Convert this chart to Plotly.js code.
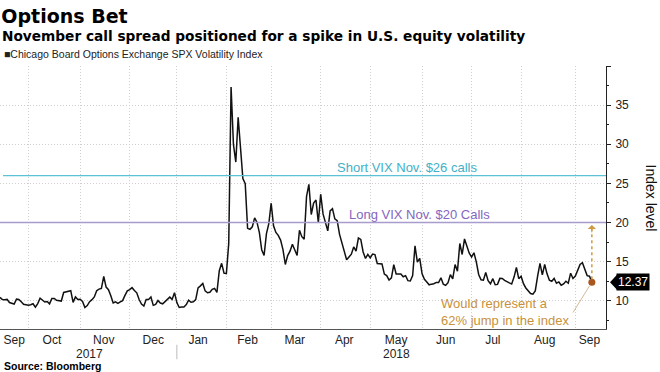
<!DOCTYPE html>
<html>
<head>
<meta charset="utf-8">
<script src="https://cdn.plot.ly/plotly-3.0.1.min.js"></script>
<style>html,body{margin:0;padding:0;background:#fff}#chart{width:660px;height:372px}</style>
</head>
<body>
<div id="chart"></div>
<script>
// VIX daily closes
const dates = [
"2017-09-14","2017-09-15","2017-09-18","2017-09-19","2017-09-20","2017-09-21","2017-09-22","2017-09-25","2017-09-26","2017-09-27","2017-09-28","2017-09-29",
"2017-10-02","2017-10-03","2017-10-04","2017-10-05","2017-10-06","2017-10-09","2017-10-10","2017-10-11","2017-10-12","2017-10-13","2017-10-16","2017-10-17","2017-10-18","2017-10-19","2017-10-20","2017-10-23","2017-10-24","2017-10-25","2017-10-26","2017-10-27","2017-10-30","2017-10-31",
"2017-11-01","2017-11-02","2017-11-03","2017-11-06","2017-11-07","2017-11-08","2017-11-09","2017-11-10","2017-11-13","2017-11-14","2017-11-15","2017-11-16","2017-11-17","2017-11-20","2017-11-21","2017-11-22","2017-11-24","2017-11-27","2017-11-28","2017-11-29","2017-11-30",
"2017-12-01","2017-12-04","2017-12-05","2017-12-06","2017-12-07","2017-12-08","2017-12-11","2017-12-12","2017-12-13","2017-12-14","2017-12-15","2017-12-18","2017-12-19","2017-12-20","2017-12-21","2017-12-22","2017-12-26","2017-12-27","2017-12-28","2017-12-29",
"2018-01-02","2018-01-03","2018-01-04","2018-01-05","2018-01-08","2018-01-09","2018-01-10","2018-01-11","2018-01-12","2018-01-16","2018-01-17","2018-01-18","2018-01-19","2018-01-22","2018-01-23","2018-01-24","2018-01-25","2018-01-26","2018-01-29","2018-01-30","2018-01-31",
"2018-02-01","2018-02-02","2018-02-05","2018-02-06","2018-02-07","2018-02-08","2018-02-09","2018-02-12","2018-02-13","2018-02-14","2018-02-15","2018-02-16","2018-02-20","2018-02-21","2018-02-22","2018-02-23","2018-02-26","2018-02-27","2018-02-28",
"2018-03-01","2018-03-02","2018-03-05","2018-03-06","2018-03-07","2018-03-08","2018-03-09","2018-03-12","2018-03-13","2018-03-14","2018-03-15","2018-03-16","2018-03-19","2018-03-20","2018-03-21","2018-03-22","2018-03-23","2018-03-26","2018-03-27","2018-03-28","2018-03-29",
"2018-04-02","2018-04-03","2018-04-04","2018-04-05","2018-04-06","2018-04-09","2018-04-10","2018-04-11","2018-04-12","2018-04-13","2018-04-16","2018-04-17","2018-04-18","2018-04-19","2018-04-20","2018-04-23","2018-04-24","2018-04-25","2018-04-26","2018-04-27","2018-04-30",
"2018-05-01","2018-05-02","2018-05-03","2018-05-04","2018-05-07","2018-05-08","2018-05-09","2018-05-10","2018-05-11","2018-05-14","2018-05-15","2018-05-16","2018-05-17","2018-05-18","2018-05-21","2018-05-22","2018-05-23","2018-05-24","2018-05-25","2018-05-29","2018-05-30","2018-05-31",
"2018-06-01","2018-06-04","2018-06-05","2018-06-06","2018-06-07","2018-06-08","2018-06-11","2018-06-12","2018-06-13","2018-06-14","2018-06-15","2018-06-18","2018-06-19","2018-06-20","2018-06-21","2018-06-22","2018-06-25","2018-06-26","2018-06-27","2018-06-28","2018-06-29",
"2018-07-02","2018-07-03","2018-07-05","2018-07-06","2018-07-09","2018-07-10","2018-07-11","2018-07-12","2018-07-13","2018-07-16","2018-07-17","2018-07-18","2018-07-19","2018-07-20","2018-07-23","2018-07-24","2018-07-25","2018-07-26","2018-07-27","2018-07-30","2018-07-31",
"2018-08-01","2018-08-02","2018-08-03","2018-08-06","2018-08-07","2018-08-08","2018-08-09","2018-08-10","2018-08-13","2018-08-14","2018-08-15","2018-08-16","2018-08-17","2018-08-20","2018-08-21","2018-08-22","2018-08-23","2018-08-24","2018-08-27","2018-08-28","2018-08-29","2018-08-30","2018-08-31",
"2018-09-04","2018-09-05","2018-09-06","2018-09-07","2018-09-10","2018-09-11","2018-09-12","2018-09-13"
];
const vix = [
10.44,10.17,10.15,10.18,9.78,9.67,9.59,10.21,10.17,9.87,9.55,9.51,
9.45,9.51,9.63,9.19,9.65,10.33,10.08,9.85,9.91,9.61,10.31,10.31,10.07,10.05,9.97,11.07,11.16,11.23,11.30,9.80,10.50,10.18,
10.20,9.93,9.14,9.40,9.89,10.15,10.50,11.29,11.50,11.59,13.13,11.76,11.43,10.65,9.73,9.88,9.67,9.87,10.03,10.70,11.28,
11.43,11.68,11.33,11.02,10.16,9.58,9.34,10.18,10.18,10.49,9.42,9.53,10.03,9.72,9.62,9.90,10.25,10.47,10.18,11.04,
9.77,9.15,9.22,9.22,9.52,10.08,9.82,9.88,10.16,11.66,11.91,12.22,11.27,11.03,11.10,11.47,11.58,11.08,13.84,14.79,13.54,
13.47,17.31,37.32,29.98,27.73,33.46,29.06,25.61,24.97,19.26,19.13,19.46,20.60,20.02,18.72,16.49,15.80,18.59,19.85,
22.47,19.59,18.73,18.36,17.76,16.54,14.64,15.78,16.35,17.23,16.59,15.80,19.02,18.20,17.86,23.34,24.87,21.03,22.50,22.87,19.97,
23.62,21.10,20.06,18.94,21.49,21.77,20.47,20.24,18.49,17.41,16.56,15.25,15.60,15.96,16.88,16.34,18.02,17.84,16.24,15.41,15.93,
15.49,15.97,15.90,14.77,14.75,14.71,13.42,13.23,12.65,12.93,14.63,13.42,13.43,13.42,13.08,13.22,12.58,12.53,13.22,17.02,14.94,15.43,
13.46,12.74,12.40,12.05,12.13,12.18,12.35,12.34,12.94,12.12,11.98,12.31,13.35,12.79,14.64,13.77,17.33,15.92,17.91,16.85,16.09,
15.60,16.14,14.97,13.37,12.69,12.64,13.63,12.58,12.18,12.83,12.06,12.10,12.87,12.86,12.62,12.41,12.29,12.14,13.03,14.26,12.83,
13.15,12.19,11.64,11.27,10.93,10.85,11.27,13.16,14.78,13.31,14.64,13.45,12.64,12.49,12.86,12.25,12.41,11.99,12.16,12.50,12.25,13.53,12.86,
13.16,13.91,14.65,14.88,14.16,13.22,13.14,12.37
];
const holidays = ["2017-11-23","2017-12-25","2018-01-01","2018-01-15","2018-02-19","2018-03-30","2018-05-28","2018-07-04","2018-09-03"];
const monthStarts = ["2017-10-02","2017-11-01","2017-12-01","2018-01-02","2018-02-01","2018-03-01","2018-04-02","2018-05-01","2018-06-01","2018-07-02","2018-08-01","2018-09-04"];
const monthTickDates = ["2017-09-22","2017-10-16","2017-11-15","2017-12-15","2018-01-16","2018-02-14","2018-03-15","2018-04-16","2018-05-16","2018-06-15","2018-07-16","2018-08-15","2018-09-12"];
const monthLabels = ["Sep","Oct","Nov","Dec","Jan","Feb","Mar","Apr","May","Jun","Jul","Aug","Sep"];
const yTicks = [10,15,20,25,30,35,40];
const yTickText = ["10","15","20","25","30","35",""];
const shortCall = 26, longCall = 20;
const lastDate = dates[dates.length-1], lastVal = vix[vix.length-1];
const targetVal = 20;

const FONT = '"Liberation Sans", Arial, sans-serif';
const BOLD = '"DejaVu Sans", "Liberation Sans", Arial, sans-serif';
const orange = '#c8913a';
const GRID = '#cfcfcf';

const traces = [
  {x: dates, y: vix, type:'scatter', mode:'lines', line:{color:'#111', width:1.5}, hoverinfo:'skip', showlegend:false},
  {x:[lastDate], y:[lastVal], type:'scatter', mode:'markers', marker:{color:'#a9561f', size:7}, showlegend:false, hoverinfo:'skip'}
];

const layout = {
  width:660, height:372,
  margin:{l:0, r:54, t:66, b:43},
  paper_bgcolor:'#fff', plot_bgcolor:'#fff',
  font:{family:FONT, color:'#222'},
  title:{text:'<b>Options Bet</b>', x:0.002, xanchor:'left', xref:'container', y:0.957, yanchor:'middle', yref:'container', font:{size:19, color:'#000', family:BOLD}},
  xaxis:{
    type:'date', range:['2017-09-14','2018-09-21'],
    rangebreaks:[{bounds:['sat','mon']},{values:holidays}],
    tickmode:'array', tickvals:monthTickDates, ticktext:monthLabels,
    ticks:'', showgrid:false, showline:true, linecolor:'#555', linewidth:1,
    tickfont:{size:12, color:'#222'}, zeroline:false,
    minor:{tickmode:'array', tickvals:monthStarts, showgrid:true, gridcolor:GRID, griddash:'1px,2px', gridwidth:1, ticks:''}
  },
  yaxis:{
    side:'right', range:[6.4,40], tickmode:'array', tickvals:yTicks, ticktext:yTickText,
    showgrid:true, gridcolor:GRID, griddash:'1px,2px', gridwidth:1,
    ticks:'outside', ticklen:4, tickcolor:'#222', showline:true, linecolor:'#222', linewidth:1,
    minor:{dtick:2.5, tick0:0, ticks:'outside', ticklen:2, tickcolor:'#222', showgrid:false},
    tickfont:{size:12, color:'#222'}, zeroline:false, ticklabelstandoff:2
  },
  shapes:[
    {type:'line', xref:'paper', x0:0.005, x1:1, yref:'y', y0:shortCall, y1:shortCall, line:{color:'#5cc1d6', width:1.2}},
    {type:'line', xref:'paper', x0:0, x1:1, yref:'y', y0:longCall, y1:longCall, line:{color:'#a99ccd', width:1.6}},
    {type:'line', xref:'x', yref:'y', x0:lastDate, x1:lastDate, y0:lastVal+0.4, y1:targetVal-0.6, line:{color:'#d09a40', width:1.5, dash:'dot'}},
    {type:'line', xref:'x', yref:'y', x0:'2018-08-31', x1:'2018-09-12', y0:8.5, y1:11.9, line:{color:'#c9a77a', width:0.8}},
    {type:'path', xref:'paper', xsizemode:'pixel', xanchor:1, yref:'y', ysizemode:'pixel', yanchor:lastVal,
     path:'M 4 0 L 11 7.5 L 11 -7.5 Z', fillcolor:'#000', line:{width:0}},
    {type:'line', xref:'x', yref:'paper', x0:'2018-01-02', x1:'2018-01-02', y0:-0.06, y1:-0.115, line:{color:'#bbb', width:1}}
  ],
  annotations:[
    {text:'<b>November call spread positioned for a spike in U.S. equity volatility</b>', xref:'paper', yref:'paper', x:0, y:1.114, xanchor:'left', yanchor:'middle', showarrow:false, font:{size:13.7, color:'#000', family:BOLD}},
    {text:'■Chicago Board Options Exchange SPX Volatility Index', xref:'paper', yref:'paper', x:0.004, y:1.044, xanchor:'left', yanchor:'middle', showarrow:false, font:{size:10.5, color:'#222'}},
    {text:'<b>Source: Bloomberg</b>', xref:'paper', yref:'paper', x:0.004, y:-0.141, xanchor:'left', yanchor:'middle', showarrow:false, font:{size:10.5, color:'#000'}},
    {text:'2017', xref:'x', yref:'paper', x:'2017-11-07', y:-0.096, xanchor:'center', yanchor:'middle', showarrow:false, font:{size:12, color:'#222'}},
    {text:'2018', xref:'x', yref:'paper', x:'2018-05-16', y:-0.096, xanchor:'center', yanchor:'middle', showarrow:false, font:{size:12, color:'#222'}},
    {text:'Short VIX Nov. $26 calls', xref:'x', yref:'y', x:'2018-04-10', y:shortCall, xanchor:'left', yanchor:'bottom', yshift:-1, showarrow:false, font:{size:13, color:'#3fb0c8'}},
    {text:'Long VIX Nov. $20 Calls', xref:'x', yref:'y', x:'2018-04-17', y:longCall, xanchor:'left', yanchor:'bottom', yshift:-1, showarrow:false, font:{size:13, color:'#8466bf'}},
    {text:'Would represent a<br>62% jump in the index', xref:'x', yref:'y', x:'2018-08-30', y:8.6, xanchor:'right', yanchor:'middle', align:'left', showarrow:false, font:{size:13, color:orange}},
    {text:'', xref:'x', yref:'y', x:lastDate, y:targetVal-0.3, ax:0, ay:9, showarrow:true, arrowhead:1, arrowsize:1.4, arrowwidth:1, arrowcolor:'#d09a40'},
    {text:'12.37', xref:'paper', yref:'y', x:1, y:lastVal, xanchor:'left', yanchor:'middle', xshift:10, showarrow:false, bgcolor:'#000', borderpad:1, font:{size:12, color:'#fff'}},
    {text:'Index level', xref:'paper', yref:'paper', x:1, xshift:45, y:0.5, xanchor:'center', yanchor:'middle', textangle:90, showarrow:false, font:{size:14, color:'#111'}}
  ]
};

Plotly.newPlot('chart', traces, layout, {displayModeBar:false, staticPlot:true});
</script>
</body>
</html>
